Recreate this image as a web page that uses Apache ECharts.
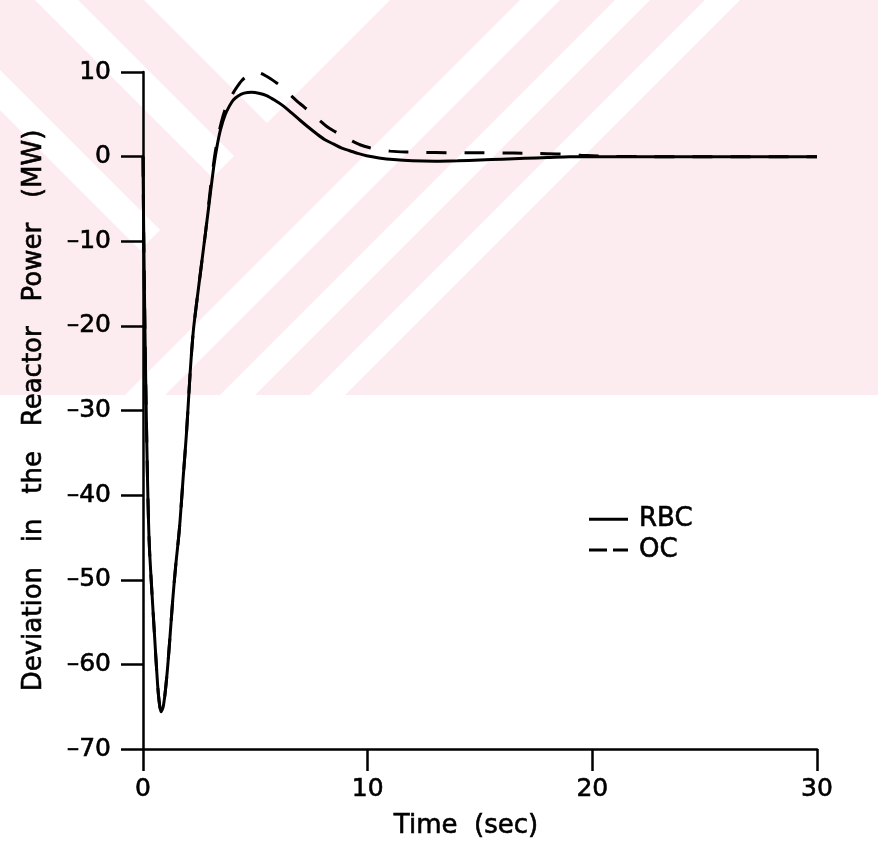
<!DOCTYPE html>
<html>
<head>
<meta charset="utf-8">
<title>Deviation in the Reactor Power</title>
<script src="https://cdn.jsdelivr.net/npm/echarts@6/dist/echarts.min.js"></script>
<style>
  html, body { margin: 0; padding: 0; background: #ffffff; }
  #chart { width: 878px; height: 845px; }
</style>
</head>
<body>
<div id="chart"></div>
<script>
// Time (s) and power deviation (MW) for the RBC controller
const timeRBC = [0, 0.02, 0.05, 0.1, 0.15, 0.2, 0.25, 0.3, 0.42, 0.5, 0.65, 0.72, 0.8, 0.9, 1.0, 1.1, 1.2, 1.32, 1.45, 1.62, 1.8, 1.94, 2.1, 2.24, 2.4, 2.6, 2.8, 3.0, 3.17, 3.3, 3.45, 3.65, 3.85, 4.02, 4.25, 4.5, 4.84, 5.2, 5.5, 5.9, 6.24, 6.6, 6.99, 7.35, 7.73, 8.1, 8.47, 8.85, 9.2, 9.6, 9.95, 10.5, 11.14, 12, 13, 14, 15, 16, 17, 18, 19, 20, 25, 30];
const powerRBC = [0, -6, -13, -23, -31, -38, -43.5, -47, -52.5, -56, -62.4, -64.4, -65.6, -65.0, -63.0, -60.2, -56.8, -52.5, -48.5, -44, -37.5, -32.5, -25.5, -20.6, -17, -12.8, -8.6, -4.3, -0.8, 1.3, 3.2, 4.9, 6.0, 6.7, 7.2, 7.5, 7.6, 7.45, 7.2, 6.6, 6.0, 5.2, 4.3, 3.5, 2.7, 2.0, 1.5, 1.0, 0.7, 0.35, 0.1, -0.15, -0.35, -0.5, -0.55, -0.5, -0.4, -0.3, -0.2, -0.1, 0, 0, 0, 0];

// Time (s) and power deviation (MW) for the OC controller
const timeOC = [0, 0.02, 0.05, 0.1, 0.15, 0.2, 0.25, 0.3, 0.42, 0.5, 0.65, 0.72, 0.8, 0.9, 1.0, 1.1, 1.2, 1.32, 1.45, 1.62, 1.8, 1.94, 2.1, 2.24, 2.4, 2.6, 2.8, 3.0, 3.17, 3.3, 3.5, 3.7, 3.9, 4.1, 4.4, 4.69, 5.1, 5.5, 5.9, 6.24, 6.55, 6.84, 7.2, 7.5, 7.85, 8.18, 8.55, 8.92, 9.3, 9.66, 10.1, 10.55, 11, 11.7, 12.5, 13.5, 15, 16.5, 17.5, 18.6, 19.5, 20.5, 22, 30];
const powerOC = [0, -6, -13, -23, -31, -38, -43.5, -47, -52.5, -56, -62.4, -64.4, -65.5, -65.0, -63.0, -60.2, -56.8, -52.5, -48.5, -44, -37.5, -32.5, -25.5, -20.6, -17, -12.8, -8.6, -3.8, -0.3, 1.8, 4.2, 5.9, 7.0, 7.9, 9.0, 9.6, 9.95, 9.5, 8.8, 8.1, 7.3, 6.6, 5.8, 5.1, 4.3, 3.55, 2.95, 2.4, 1.85, 1.4, 1.05, 0.8, 0.65, 0.55, 0.5, 0.47, 0.45, 0.42, 0.38, 0.3, 0.15, 0.05, 0, 0];

// Axis ranges and tick spacing
const xRange = [0, 30];
const xStep = 10;
const yRange = [-70, 10];
const yStep = 10;

const seriesNames = ['RBC', 'OC'];
const xTitle = 'Time  (sec)';
const yTitle = 'Deviation   in   the   Reactor   Power   (MW)';

const FONT = 'DejaVu Sans';
const INK = '#000000';
const WASH = '#fdecef';

function pairs(xs, ys) {
  return xs.map((x, i) => [x, ys[i]]);
}

// Slightly heavier glyphs, like plotter lettering
function ink(size, extra) {
  return Object.assign({
    fontFamily: FONT, fontSize: size, color: INK,
    textBorderColor: INK, textBorderWidth: 0.6
  }, extra || {});
}

// Background wash: pale diagonal bands across the upper part of the page
const washTop = 0, washBottom = 395, pageW = 878;
const whiteCuts = [
  [[144, 0], [390, 0], [267, 123]],
  [[35, 0], [78, 0], [234, 156], [212.5, 177.5]],
  [[0, 70], [160, 230], [140, 250], [0, 110]],
  [[520, 0], [560, 0], [165, 395], [125, 395]],
  [[615, 0], [650, 0], [255, 395], [220, 395]],
  [[705, 0], [740, 0], [345, 395], [310, 395]]
];
const washGraphics = [{
  type: 'rect', silent: true, z: -10,
  shape: { x: 0, y: washTop, width: pageW, height: washBottom - washTop },
  style: { fill: WASH }
}].concat(whiteCuts.map(pts => ({
  type: 'polygon', silent: true, z: -9,
  shape: { points: pts },
  style: { fill: '#ffffff' }
})));

const chart = echarts.init(document.getElementById('chart'), null, { renderer: 'canvas' });

const axisLine = { show: true, onZero: false, lineStyle: { color: INK, width: 2.5 } };
const axisTick = { show: true, inside: false, length: 22, lineStyle: { color: INK, width: 2.5 } };

chart.setOption({
  animation: false,
  backgroundColor: '#ffffff',
  graphic: washGraphics,
  grid: { left: 143, right: 61, top: 72, bottom: 96, outerBoundsMode: 'none' },
  legend: {
    orient: 'vertical',
    left: 589,
    top: 506,
    padding: 0,
    itemWidth: 39,
    itemHeight: 3,
    itemGap: 4,
    data: [
      { name: seriesNames[0], icon: 'path://M0,0H39V3H0Z' },
      { name: seriesNames[1], icon: 'path://M0,0H18V3H0Z M24,0H39V3H24Z' }
    ],
    itemStyle: { color: INK, borderWidth: 0 },
    textStyle: ink(26, { lineHeight: 25, padding: [0, 0, 0, 6] })
  },
  xAxis: {
    type: 'value',
    min: xRange[0], max: xRange[1], interval: xStep,
    name: xTitle,
    nameLocation: 'middle',
    nameGap: 64,
    nameTextStyle: ink(26, { padding: [0, 28, 0, 0] }),
    axisLine: axisLine,
    axisTick: axisTick,
    splitLine: { show: false },
    axisLabel: ink(25, { margin: 28 })
  },
  yAxis: {
    type: 'value',
    min: yRange[0], max: yRange[1], interval: yStep,
    name: yTitle,
    nameLocation: 'middle',
    nameGap: 96,
    nameTextStyle: ink(26),
    axisLine: axisLine,
    axisTick: axisTick,
    splitLine: { show: false },
    axisLabel: ink(25, {
      margin: 32,
      formatter: v => (v < 0 ? '\u2013' + Math.abs(v) : String(v))
    })
  },
  series: [
    {
      name: seriesNames[0],
      type: 'line',
      data: pairs(timeRBC, powerRBC),
      symbol: 'none',
      showSymbol: false,
      smooth: 0.3,
      lineStyle: { color: INK, width: 3 },
      itemStyle: { color: INK },
      z: 3
    },
    {
      name: seriesNames[1],
      type: 'line',
      data: pairs(timeOC, powerOC),
      symbol: 'none',
      showSymbol: false,
      smooth: 0.3,
      lineStyle: { color: INK, width: 3, type: [20, 18] },
      itemStyle: { color: INK },
      z: 2
    }
  ]
});
</script>
</body>
</html>
